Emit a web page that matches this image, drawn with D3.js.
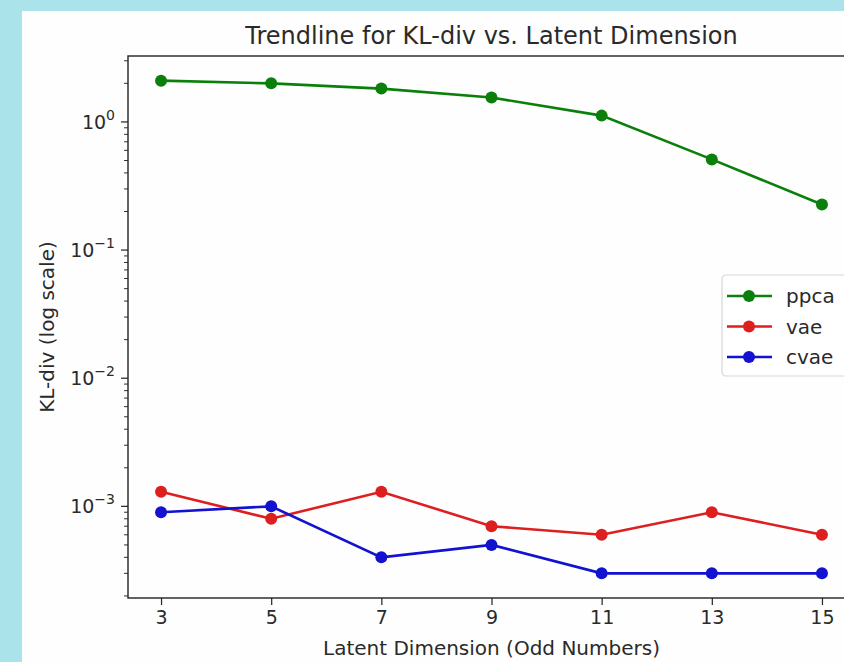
<!DOCTYPE html>
<html>
<head>
<meta charset="utf-8">
<script src="https://cdn.jsdelivr.net/npm/d3@7"></script>
<style>
  body { margin: 0; background: #abe3ea; }
  svg { display: block; font-family: "DejaVu Sans", sans-serif; }
</style>
</head>
<body>
<svg id="chart" width="844" height="662"></svg>
<script>
// values
var dims = [3, 5, 7, 9, 11, 13, 15];
var ppca = [2.1, 2.0, 1.82, 1.55, 1.12, 0.51, 0.227];
var vae  = [0.0013, 0.0008, 0.0013, 0.0007, 0.0006, 0.0009, 0.0006];
var cvae = [0.0009, 0.001, 0.0004, 0.0005, 0.0003, 0.0003, 0.0003];
var seriesNames = ["ppca", "vae", "cvae"];
var seriesColors = ["#0a800a", "#dd1f1f", "#1212d0"];
var xTicks = [3, 5, 7, 9, 11, 13, 15];
var yExps = [-3, -2, -1, 0];

var series = [ppca, vae, cvae];

const svg = d3.select("#chart");

// light blue frame with white sheet
svg.append("rect").attr("width", 844).attr("height", 662).attr("fill", "#abe3ea");
svg.append("rect").attr("x", 22).attr("y", 11).attr("width", 830).attr("height", 660).attr("fill", "#fefefe");

const margin = {top: 56, left: 128, right: 855, bottom: 598};

// matplotlib style 5% margins
var xMin = d3.min(dims), xMax = d3.max(dims), xPad = (xMax - xMin) * 0.05;
const x = d3.scaleLinear().domain([xMin - xPad, xMax + xPad]).range([margin.left, margin.right]);

var all = d3.merge(series);
var lmin = Math.log10(d3.min(all)), lmax = Math.log10(d3.max(all)), lpad = (lmax - lmin) * 0.05;
const y = d3.scaleLog().domain([Math.pow(10, lmin - lpad), Math.pow(10, lmax + lpad)]).range([margin.bottom, margin.top]);

const textColor = "#2a2a2a";

// x axis
const gx = svg.append("g")
    .attr("transform", `translate(0,${margin.bottom})`)
    .call(d3.axisBottom(x).tickValues(xTicks).tickSize(7).tickPadding(6).tickFormat(d3.format("d")));
gx.select(".domain").remove();
gx.selectAll("line").attr("stroke", "#222").attr("stroke-width", 1.2);
gx.selectAll("text").attr("font-size", 19).attr("fill", textColor).attr("font-family", "DejaVu Sans");

// y axis: major ticks with superscript labels
const gy = svg.append("g").attr("transform", `translate(${margin.left},0)`);
yExps.forEach(function(e) {
  var v = Math.pow(10, e);
  var yy = y(v);
  gy.append("line").attr("x1", -7).attr("x2", 0).attr("y1", yy).attr("y2", yy)
    .attr("stroke", "#222").attr("stroke-width", 1.2);
  var t = gy.append("text").attr("x", -13).attr("y", yy + 7)
    .attr("text-anchor", "end").attr("font-size", 19).attr("fill", textColor);
  t.append("tspan").text("10");
  t.append("tspan").attr("dy", -9).attr("font-size", 14).text(e < 0 ? "\u2212" + (-e) : String(e));
});

// minor ticks
var dom = y.domain();
for (var e = -4; e <= 0; e++) {
  for (var m = 2; m <= 9; m++) {
    var v = m * Math.pow(10, e);
    if (v < dom[0] || v > dom[1]) continue;
    gy.append("line").attr("x1", -4).attr("x2", 0).attr("y1", y(v)).attr("y2", y(v))
      .attr("stroke", "#333").attr("stroke-width", 1);
  }
}

// spines
svg.append("rect")
    .attr("x", margin.left).attr("y", margin.top)
    .attr("width", margin.right - margin.left).attr("height", margin.bottom - margin.top)
    .attr("fill", "none").attr("stroke", "#222").attr("stroke-width", 1.4);

// lines + markers
const line = d3.line().x((d, i) => x(dims[i])).y(d => y(d));
series.forEach(function(s, k) {
  svg.append("path").datum(s)
    .attr("d", line)
    .attr("fill", "none")
    .attr("stroke", seriesColors[k])
    .attr("stroke-width", 2.6);
  svg.selectAll(".pt" + k)
    .data(s)
    .enter().append("circle")
      .attr("class", "pt" + k)
      .attr("cx", (d, i) => x(dims[i]))
      .attr("cy", d => y(d))
      .attr("r", 6)
      .attr("fill", seriesColors[k]);
});

// title and axis labels
svg.append("text")
    .attr("x", (margin.left + margin.right) / 2)
    .attr("y", 44)
    .attr("text-anchor", "middle")
    .attr("font-size", 24)
    .attr("fill", textColor)
    .text("Trendline for KL-div vs. Latent Dimension");

svg.append("text")
    .attr("x", (margin.left + margin.right) / 2)
    .attr("y", 655)
    .attr("text-anchor", "middle")
    .attr("font-size", 20)
    .attr("fill", textColor)
    .text("Latent Dimension (Odd Numbers)");

svg.append("text")
    .attr("transform", `translate(54,${(margin.top + margin.bottom) / 2}) rotate(-90)`)
    .attr("text-anchor", "middle")
    .attr("font-size", 20)
    .attr("fill", textColor)
    .text("KL-div (log scale)");

// legend
const leg = svg.append("g").attr("transform", "translate(722,275)");
leg.append("rect").attr("width", 140).attr("height", 101).attr("rx", 4)
    .attr("fill", "#ffffff").attr("fill-opacity", 0.8)
    .attr("stroke", "#d8d8d8").attr("stroke-width", 1.2);
seriesNames.forEach(function(name, k) {
  var ly = 21 + k * 30.5;
  leg.append("line").attr("x1", 5).attr("x2", 50).attr("y1", ly).attr("y2", ly)
    .attr("stroke", seriesColors[k]).attr("stroke-width", 2.6);
  leg.append("circle").attr("cx", 27).attr("cy", ly).attr("r", 6).attr("fill", seriesColors[k]);
  leg.append("text").attr("x", 64).attr("y", ly + 7)
    .attr("font-size", 20).attr("fill", textColor).text(name);
});
</script>
</body>
</html>
